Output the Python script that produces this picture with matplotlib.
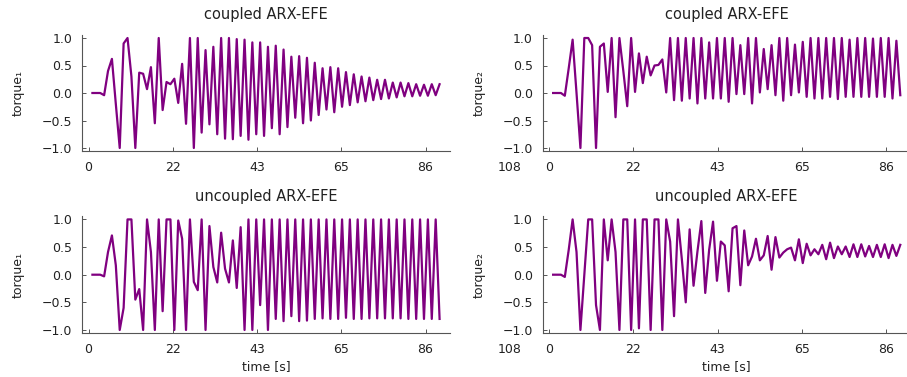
import numpy as np
import matplotlib
matplotlib.use("Agg")
import matplotlib.pyplot as plt

# time steps (one sample per second)
steps = list(range(1, 91))

# coupled ARX-EFE, torque 1
coupled_u1 = [0, 0, 0, -0.04, 0.40, 0.62, -0.20, -1.0, 0.90, 1.0,
              0.30, -1.0, 0.37, 0.35, 0.07, 0.47, -0.55, 1.0, -0.31, 0.20,
              0.16, 0.26, -0.18, 0.53, -0.56, 1.0, -1.0, 1.0, -0.72, 0.78,
              -0.57, 0.84, -0.75, 1.0, -0.83, 1.0, -0.84, 0.98, -0.78, 0.97,
              -0.85, 0.92, -0.75, 0.92, -0.78, 0.84, -0.64, 0.86, -0.75, 0.79,
              -0.62, 0.66, -0.45, 0.67, -0.55, 0.64, -0.50, 0.55, -0.40, 0.45,
              -0.30, 0.47, -0.35, 0.45, -0.25, 0.38, -0.22, 0.34, -0.17, 0.30,
              -0.15, 0.28, -0.13, 0.24, -0.11, 0.24, -0.10, 0.19, -0.08, 0.19,
              -0.06, 0.18, -0.06, 0.16, -0.05, 0.15, -0.05, 0.16, -0.04, 0.16]

# coupled ARX-EFE, torque 2
coupled_u2 = [0, 0, 0, -0.05, 0.45, 0.97, 0.0, -1.0, 1.0, 1.0,
              0.87, -1.0, 0.84, 0.90, 0.02, 1.0, -0.44, 1.0, 0.40, -0.24,
              1.0, 0.02, 0.72, 0.18, 0.66, 0.32, 0.50, 0.51, 0.61, 0.01,
              1.0, -0.13, 1.0, -0.14, 1.0, -0.10, 1.0, -0.19, 1.0, -0.10,
              0.92, -0.10, 1.0, -0.10, 1.0, -0.16, 1.0, -0.02, 0.87, -0.02,
              1.0, -0.19, 1.0, 0.01, 0.80, 0.07, 0.87, -0.04, 1.0, -0.14,
              1.0, -0.04, 0.88, 0.01, 0.93, -0.07, 1.0, -0.10, 1.0, -0.10,
              1.0, -0.07, 1.0, -0.11, 1.0, -0.07, 0.97, -0.07, 1.0, -0.07,
              1.0, -0.07, 0.99, -0.07, 1.0, -0.07, 1.0, -0.10, 0.95, -0.04]

# uncoupled ARX-EFE, torque 1
uncoupled_u1 = [0, 0, 0, -0.03, 0.41, 0.71, 0.17, -1.0, -0.60, 1.0,
                1.0, -0.45, -0.26, -1.0, 1.0, 0.41, -1.0, 1.0, -0.66, 1.0,
                1.0, -1.0, 0.98, 0.65, -1.0, 1.0, -0.13, -0.28, 1.0, -1.0,
                0.88, 0.14, -0.14, 0.76, 0.11, -0.14, 0.62, -0.24, 0.86, -1.0,
                1.0, -1.0, 1.0, -0.55, 1.0, -1.0, 1.0, -0.80, 1.0, -0.84,
                1.0, -0.75, 1.0, -0.84, 1.0, -0.83, 1.0, -0.80, 1.0, -0.79,
                1.0, -0.80, 1.0, -0.80, 1.0, -0.78, 1.0, -0.80, 1.0, -0.80,
                1.0, -0.79, 1.0, -0.79, 1.0, -0.79, 1.0, -0.79, 1.0, -0.79,
                1.0, -0.80, 1.0, -0.80, 1.0, -0.80, 1.0, -0.80, 1.0, -0.80]

# uncoupled ARX-EFE, torque 2
uncoupled_u2 = [0, 0, 0, -0.04, 0.45, 1.0, 0.41, -1.0, 0.0, 1.0,
                1.0, -0.55, -1.0, 1.0, 0.26, 1.0, 0.41, -1.0, 1.0, 1.0,
                -1.0, 1.0, -0.97, 1.0, 1.0, -1.0, 1.0, 1.0, -1.0, 1.0,
                0.60, -0.75, 1.0, 0.28, -0.50, 0.82, -0.20, 0.42, 0.97, -0.33,
                0.45, 0.96, -0.11, 0.60, 0.53, -0.30, 0.84, 0.88, -0.19, 0.80,
                0.17, 0.33, 0.65, 0.26, 0.35, 0.70, 0.09, 0.68, 0.31, 0.40,
                0.46, 0.49, 0.26, 0.64, 0.21, 0.56, 0.35, 0.46, 0.37, 0.54,
                0.28, 0.58, 0.30, 0.51, 0.37, 0.51, 0.32, 0.55, 0.32, 0.55,
                0.33, 0.52, 0.32, 0.54, 0.32, 0.55, 0.30, 0.54, 0.34, 0.54]

titles = ["coupled ARX-EFE", "coupled ARX-EFE", "uncoupled ARX-EFE", "uncoupled ARX-EFE"]
ylabels = ["torque\u2081", "torque\u2082", "torque\u2081", "torque\u2082"]
tick_pos = [0, 21.6, 43.2, 64.8, 86.4, 108]
tick_lbl = ["0", "22", "43", "65", "86", "108"]

W, H = 907, 377
fig = plt.figure(figsize=(W / 100, H / 100), dpi=100)

# axes boxes in pixels: left, right, top, bottom
boxes = [(82, 450, 34.7, 151.3), (542.7, 910.7, 34.7, 151.3),
         (82, 450, 216.1, 333.3), (542.7, 910.7, 216.1, 333.3)]
series = [coupled_u1, coupled_u2, uncoupled_u1, uncoupled_u2]

for i, (l, r, t, b) in enumerate(boxes):
    ax = fig.add_axes([l / W, 1 - b / H, (r - l) / W, (b - t) / H])
    ax.plot(steps, series[i], color="purple", lw=1.6)
    ax.set_xlim(1 - 2.67, 90 + 2.67)
    ax.set_ylim(-1.06, 1.06)
    ax.set_yticks([-1.0, -0.5, 0.0, 0.5, 1.0])
    ax.set_yticklabels(["\u22121.0", "\u22120.5", "0.0", "0.5", "1.0"])
    ax.set_xticks(tick_pos[:-1])
    ax.set_xticklabels(tick_lbl[:-1])
    # left panels: the last tick label falls outside the axis range in the original
    if i % 2 == 0:
        ax.annotate(tick_lbl[-1], xy=(tick_pos[-1], 0), xycoords=("data", "axes fraction"),
                    xytext=(0, -7), textcoords="offset points", ha="center", va="top",
                    fontsize=9, color="#222222", annotation_clip=False)
    for s in ["top", "right"]:
        ax.spines[s].set_visible(False)
    for s in ["left", "bottom"]:
        ax.spines[s].set_color("#555555")
        ax.spines[s].set_linewidth(0.8)
    ax.tick_params(direction="in", length=3, width=0.7, color="#555555",
                   labelsize=9, labelcolor="#222222", pad=7)
    ax.set_title(titles[i], fontsize=10.5, pad=11, color="#222222")
    ax.set_ylabel(ylabels[i], fontsize=9, color="#222222", labelpad=12)
    if i >= 2:
        ax.set_xlabel("time [s]", fontsize=9, color="#222222", labelpad=3)

fig.savefig("out.png", dpi=100)
